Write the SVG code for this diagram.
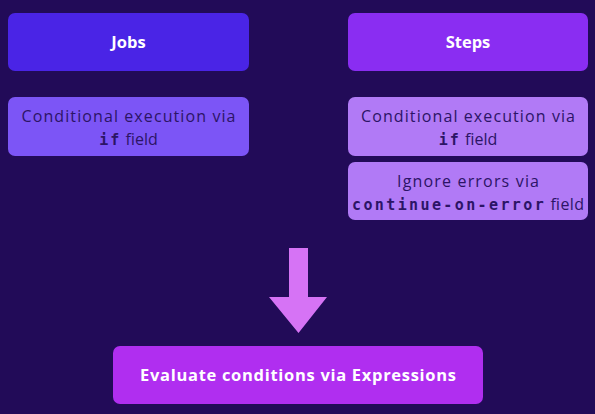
<svg xmlns="http://www.w3.org/2000/svg" width="595" height="414" viewBox="0 0 595 414">
<style>
.t{font-family:"Open Sans","Liberation Sans",sans-serif;text-anchor:middle}
.h{font-size:16.5px;font-weight:bold;fill:#ffffff}
.s{font-size:16px;fill:#2c1466}
.m{font-family:"DejaVu Sans Mono","Liberation Mono",monospace;font-weight:bold;font-size:15px}
</style>
<rect width="595" height="414" fill="#220b58"/>
<g id="jobs"><rect x="8" y="13" width="241" height="58" rx="7" fill="#4a24e6"/><text class="t h" x="128.5" y="48">Jobs</text></g>
<g id="jobs-if"><rect x="8" y="97" width="241" height="59" rx="7" fill="#7c55f6"/><text class="t s" x="128.5" y="122" textLength="214">Conditional execution via</text><text class="t s" x="128.5" y="145"><tspan class="m" letter-spacing="2">if</tspan> field</text></g>
<g id="steps"><rect x="348" y="13" width="240" height="58" rx="7" fill="#8a2df2"/><text class="t h" x="468" y="48">Steps</text></g>
<g id="steps-if"><rect x="348" y="97" width="240" height="59" rx="7" fill="#b17af6"/><text class="t s" x="468" y="122" textLength="214">Conditional execution via</text><text class="t s" x="468" y="145"><tspan class="m" letter-spacing="2">if</tspan> field</text></g>
<g id="steps-continue"><rect x="348" y="162" width="240" height="58" rx="7" fill="#b17af6"/><text class="t s" x="468" y="187" textLength="142">Ignore errors via</text><text class="t s" x="468" y="210" textLength="232"><tspan class="m" letter-spacing="2">continue-on-error</tspan> field</text></g>
<g id="connectors"><polygon points="289,248 308,248 308,297 327,297 298.5,333 269,297 289,297" fill="#d673f5"/></g>
<g id="evaluate"><rect x="113" y="346" width="370" height="58" rx="7" fill="#b02ef0"/><text class="t h" x="298" y="381" textLength="316">Evaluate conditions via Expressions</text></g>
</svg>
